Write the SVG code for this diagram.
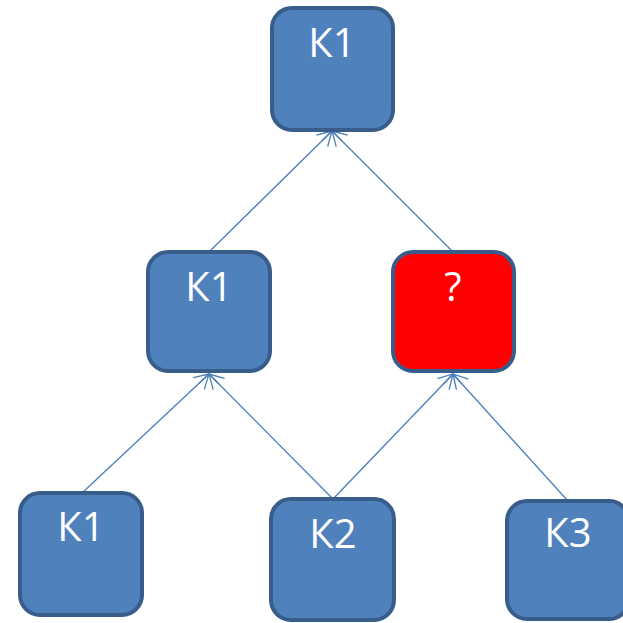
<svg xmlns="http://www.w3.org/2000/svg" width="623" height="623" viewBox="0 0 623 623">
<defs>
<style>
.box{fill:#4f81bd;stroke:#385d8a;stroke-width:4}
.red{fill:#ff0000;stroke:#385d8a;stroke-width:4}
.lbl{font-family:"Open Sans","Noto Sans",sans-serif;font-size:40px;fill:#ffffff;text-anchor:middle}
.edge{stroke:#4a7ebb;stroke-width:1.3;fill:none;marker-end:url(#arr)}
</style>
<marker id="arr" viewBox="-16 -10 18 20" refX="0" refY="0" markerWidth="18" markerHeight="20" markerUnits="userSpaceOnUse" orient="auto">
<path d="M-14,-8 L0,0 L-14,8 M-14,0 L0,0" fill="none" stroke="#4a7ebb" stroke-width="1.3"/>
</marker>
</defs>
<rect width="623" height="623" fill="#ffffff"/>
<g id="connectors">
<line class="edge" x1="209" y1="252" x2="332" y2="131"/>
<line class="edge" x1="453" y1="252" x2="332" y2="131"/>
<line class="edge" x1="82" y1="493" x2="209" y2="374"/>
<line class="edge" x1="333" y1="499" x2="209" y2="374"/>
<line class="edge" x1="333" y1="499" x2="453" y2="374"/>
<line class="edge" x1="568" y1="501" x2="453" y2="374"/>
</g>
<g id="node-top">
<rect class="box" x="272" y="8" width="121" height="122" rx="20"/>
<text class="lbl" x="332" y="57">К1</text>
</g>
<g id="node-mid-left">
<rect class="box" x="148" y="252" width="122" height="119" rx="20"/>
<text class="lbl" x="209" y="301">К1</text>
</g>
<g id="node-mid-right">
<rect class="red" x="393" y="252" width="121" height="119" rx="20"/>
<text class="lbl" x="453" y="301">?</text>
</g>
<g id="node-bottom-left">
<rect class="box" x="20" y="493" width="122" height="122" rx="20"/>
<text class="lbl" x="81" y="541">К1</text>
</g>
<g id="node-bottom-mid">
<rect class="box" x="271" y="499" width="123" height="121" rx="20"/>
<text class="lbl" x="333" y="548">К2</text>
</g>
<g id="node-bottom-right">
<rect class="box" x="507" y="501" width="122" height="118" rx="20"/>
<text class="lbl" x="568" y="547">К3</text>
</g>
</svg>
